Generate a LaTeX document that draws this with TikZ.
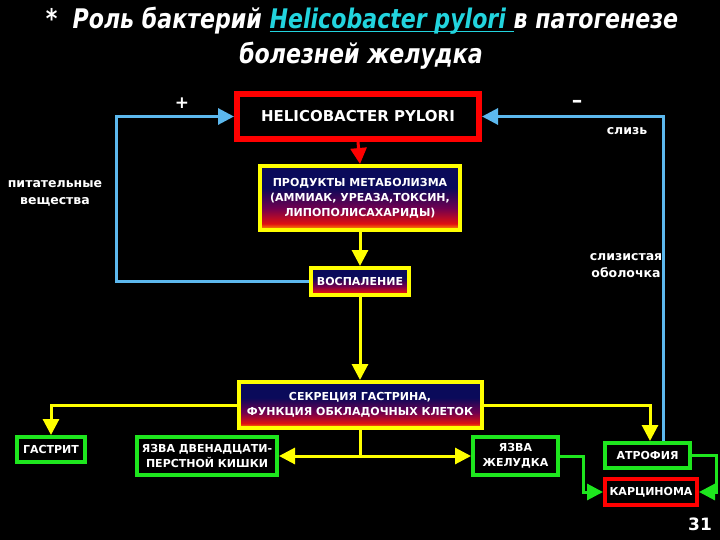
\documentclass[tikz,border=0pt]{standalone}
\usepackage{fontspec}
\setmainfont{DejaVu Sans}
\newfontfamily\titlefont[FakeStretch=0.91]{DejaVu Sans Condensed}
\usetikzlibrary{arrows.meta}
\definecolor{hpblue}{HTML}{5CB8EE}
\definecolor{ygreen}{HTML}{1EE61E}
\definecolor{yyel}{HTML}{FFFF00}
\definecolor{navyc}{HTML}{0A0A5A}
\definecolor{purp}{HTML}{700050}
\definecolor{redc}{HTML}{E01010}
\definecolor{orng}{HTML}{FFB000}
\definecolor{cyanc}{HTML}{22D4DE}
\newcommand\myul[1]{\setbox0\hbox{#1}\rlap{\rule[-3.5pt]{\wd0}{1.4pt}}\box0}
\pgfdeclareverticalshading{boxgrad}{100bp}{color(0bp)=(orng); color(25bp)=(orng); color(30bp)=(redc); color(42bp)=(purp); color(58bp)=(navyc); color(75bp)=(navyc); color(100bp)=(navyc)}
\tikzset{
  tip/.style={-{Triangle[length=16pt,width=16pt]}},
  gradbox/.style={draw=yyel, line width=4pt, shading=boxgrad, inner sep=0pt, align=center, text=white, font=\bfseries\fontsize{11}{15}\selectfont},
  greenbox/.style={draw=ygreen, line width=4pt, fill=black, inner sep=0pt, align=center, text=white, font=\bfseries\fontsize{11}{15}\selectfont},
  redbox/.style={draw=red, line width=4pt, fill=black, inner sep=0pt, align=center, text=white, font=\bfseries\fontsize{11}{15}\selectfont},
  yline/.style={draw=yyel, line width=3pt},
  bline/.style={draw=hpblue, line width=3pt},
  gline/.style={draw=ygreen, line width=3pt},
  lbl/.style={text=white, align=center, font=\bfseries\fontsize{12.5}{17}\selectfont},
  titl/.style={anchor=base, text=white, font=\titlefont\bfseries\itshape\fontsize{27}{32}\selectfont},
}
\begin{document}
\begin{tikzpicture}[x=1pt,y=-1pt]
\fill[black] (0,0) rectangle (720,540);
\useasboundingbox (0,0) rectangle (720,540);
% title
\node[titl] (t1) at (362,29)
  {*\ \ Роль бактерий \textcolor{cyanc}{\myul{Helicobacter pylori\ }}в патогенезе};
\node[titl] (t2) at (361,63.5) {болезней желудка};
% nodes
\node[draw=red, line width=6pt, fill=black, minimum width=242pt, minimum height=45pt, inner sep=0pt, text=white, font=\bfseries\fontsize{15}{18}\selectfont] (hp) at (358,116.5) {HELICOBACTER PYLORI};
\node[gradbox, minimum width=200pt, minimum height=64pt] (prod) at (360,198) {ПРОДУКТЫ МЕТАБОЛИЗМА\\(АММИАК, УРЕАЗА,ТОКСИН,\\ЛИПОПОЛИСАХАРИДЫ)};
\node[gradbox, minimum width=98pt, minimum height=27pt] (vosp) at (360,281.5) {ВОСПАЛЕНИЕ};
\node[gradbox, minimum width=243pt, minimum height=46pt] (sekr) at (360,405) {СЕКРЕЦИЯ ГАСТРИНА,\\ФУНКЦИЯ ОБКЛАДОЧНЫХ КЛЕТОК};
\node[greenbox, minimum width=68pt, minimum height=25pt] (gast) at (51,449.5) {ГАСТРИТ};
\node[greenbox, minimum width=140pt, minimum height=38pt] (ydpk) at (207,456) {ЯЗВА ДВЕНАДЦАТИ-\\ПЕРСТНОЙ КИШКИ};
\node[greenbox, minimum width=85pt, minimum height=38pt] (yzh) at (515.5,456) {ЯЗВА\\ЖЕЛУДКА};
\node[greenbox, minimum width=85pt, minimum height=25pt] (atr) at (647.5,455.5) {АТРОФИЯ};
\node[redbox, minimum width=92pt, minimum height=26pt] (karc) at (651,492) {КАРЦИНОМА};
% labels
\node[text=white, font=\bfseries\fontsize{17}{20}\selectfont] (plus) at (182,103) {+};
\node[text=white, font=\bfseries\fontsize{21}{24}\selectfont] (minus) at (577,104) {–};
\node[lbl] (sliz) at (627,131) {слизь};
\node[lbl] (pit) at (55,193) {питательные\\вещества};
\node[lbl] (obol) at (626,266) {слизистая\\оболочка};
\node[text=white, font=\bfseries\fontsize{17}{20}\selectfont] (num) at (700,524) {31};
% connectors
\draw[draw=red, line width=3pt, tip] (hp.south) -- (prod.north);
\draw[yline, tip] (prod.south) -- (vosp.north);
\draw[yline, tip] (vosp.south) -- (sekr.north);
\coordinate (lc) at (116,116.5);
\draw[bline, tip] (vosp.west) -| (lc) -- (hp.west);
\coordinate (rc) at (663,116.5);
\draw[bline, tip] (atr.north -| rc) -- (rc) -- (hp.east);
\draw[yline, tip] (sekr.west) -| (gast.north);
\draw[yline, tip] (sekr.east) -| ([xshift=2.5pt]atr.north);
\coordinate (sb) at (360,456);
\draw[yline] (sekr.south) -- (sb);
\draw[yline, tip] (sb) -- (ydpk.east);
\draw[yline, tip] (sb) -- (yzh.west);
\coordinate (g1) at (583,456);
\draw[gline, tip] (yzh.east) -- (g1) |- (karc.west);
\coordinate (g2) at (716,455.5);
\draw[gline, tip] (atr.east) -- (g2) |- (karc.east);
\end{tikzpicture}
\end{document}
